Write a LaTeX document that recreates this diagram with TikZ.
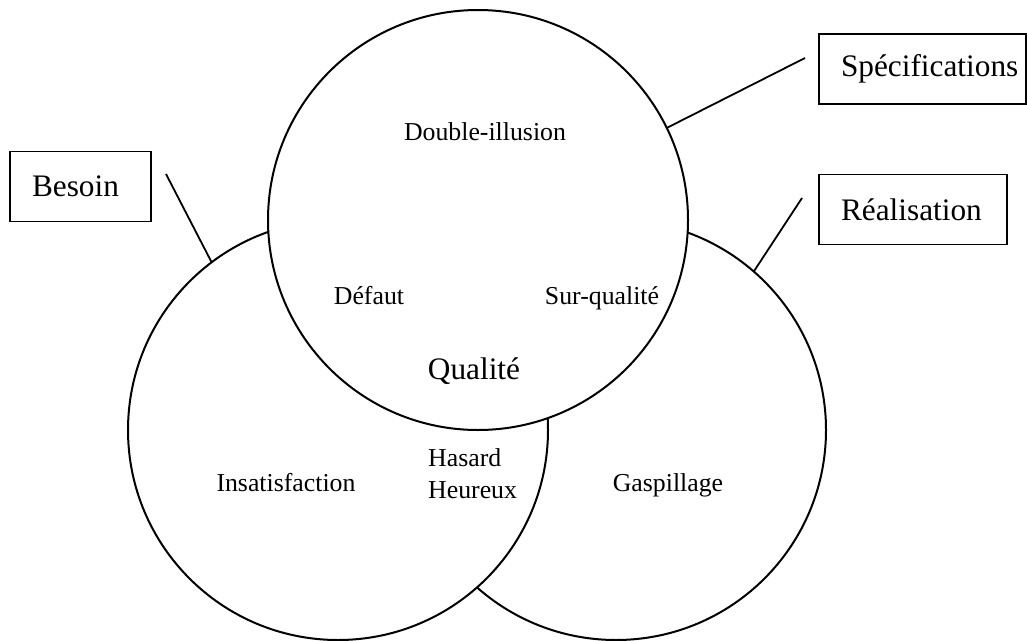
\documentclass[tikz,border=0pt]{standalone}
\usepackage{fontspec}
\setmainfont{Liberation Serif}
\newcommand\lblfont{\fontsize{25.8pt}{32pt}\selectfont}
\newcommand\tagfont{\fontsize{31.3pt}{38pt}\selectfont}
\begin{document}
\begin{tikzpicture}[x=1pt,y=-1pt,
  zone/.style={circle,draw,fill=white,line width=2pt,minimum size=420pt,
    inner sep=0pt,outer sep=0pt},
  tagbox/.style={draw,line width=1.8pt,inner sep=0pt,outer sep=0pt,
    minimum height=70pt,align=left,font=\tagfont,anchor=west},
  link/.style={line width=1.8pt},
  lbl/.style={font=\lblfont,inner sep=0pt,anchor=base},
  big/.style={font=\tagfont,inner sep=0pt,anchor=base}]
\useasboundingbox (0,0) rectangle (1027,640);

% the three sets, later ones covering the earlier
\node[zone] (R) at (616,430) {};
\node[zone] (L) at (338,430) {};
\node[zone] (T) at (478,220) {};

% region labels
\node[lbl] (dbl) at (485,140) {Double-illusion};
\node[lbl] (def) at (369,304) {Défaut};
\node[lbl] (sur) at (602,304) {Sur-qualité};
\node[big] (qual) at (474,379) {Qualité};
\node[lbl,anchor=base west,align=left] (has) at (428,498) {Hasard\\Heureux};
\node[lbl] (ins) at (286,491) {Insatisfaction};
\node[lbl] (gas) at (668,491) {Gaspillage};

% named boxes
\node[tagbox,text width=141pt] (bes) at (10,186.5) {\hspace*{22pt}Besoin};
\node[tagbox,text width=207pt] (spe) at (819,69) {\hspace*{22pt}Spécifications};
\node[tagbox,text width=188pt] (rea) at (819,209.5) {\hspace*{22pt}Réalisation};

% leader lines from boxes to sets
\coordinate (bq) at (166,174);
\coordinate (sq) at (805,58);
\coordinate (rq) at (802,198);
\draw[link] (bq) -- (L.127.5);
\draw[link] (sq) -- (T.26.4);
\draw[link] (rq) -- (R.49.3);
\end{tikzpicture}
\end{document}
